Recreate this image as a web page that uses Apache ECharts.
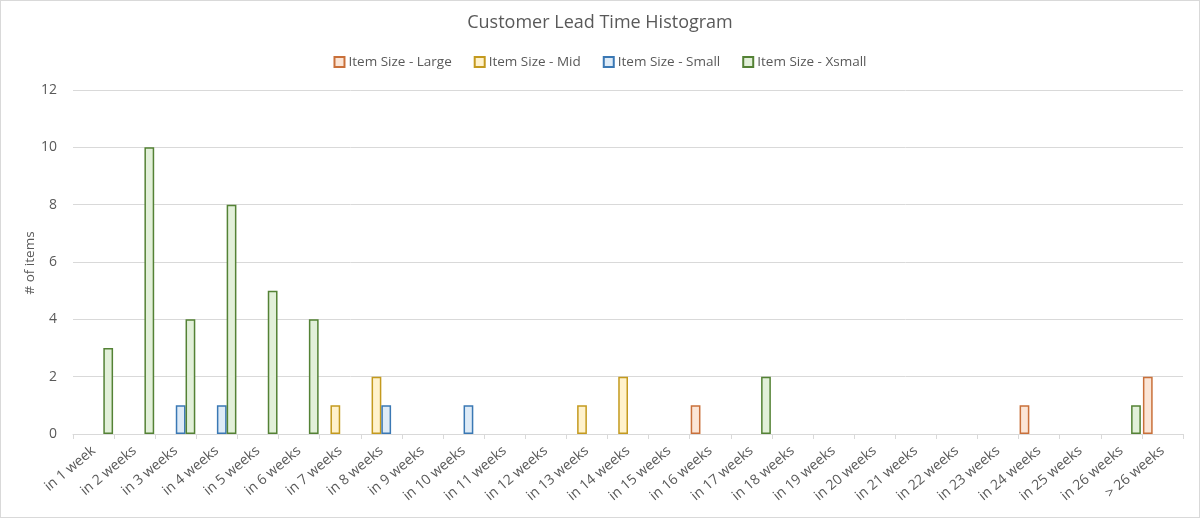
<!DOCTYPE html>
<html>
<head>
<meta charset="utf-8">
<script src="https://cdn.jsdelivr.net/npm/echarts@6/dist/echarts.min.js"></script>
<style>
html,body{margin:0;padding:0;background:#fff;}
#chart{width:1200px;height:518px;box-sizing:border-box;border:1px solid #D9D9D9;}
</style>
</head>
<body>
<div id="chart"></div>
<script>
const categories = ["in 1 week","in 2 weeks","in 3 weeks","in 4 weeks","in 5 weeks","in 6 weeks","in 7 weeks","in 8 weeks","in 9 weeks","in 10 weeks","in 11 weeks","in 12 weeks","in 13 weeks","in 14 weeks","in 15 weeks","in 16 weeks","in 17 weeks","in 18 weeks","in 19 weeks","in 20 weeks","in 21 weeks","in 22 weeks","in 23 weeks","in 24 weeks","in 25 weeks","in 26 weeks","> 26 weeks"];
const large  = [0,0,0,0,0,0,0,0,0,0,0,0,0,0,0,1,0,0,0,0,0,0,0,1,0,0,2];
const mid    = [0,0,0,0,0,0,1,2,0,0,0,0,1,2,0,0,0,0,0,0,0,0,0,0,0,0,0];
const small  = [0,0,1,1,0,0,0,1,0,1,0,0,0,0,0,0,0,0,0,0,0,0,0,0,0,0,0];
const xsmall = [3,10,4,8,5,4,0,0,0,0,0,0,0,0,0,0,2,0,0,0,0,0,0,0,0,1,0];
const seriesNames = ["Item Size - Large","Item Size - Mid","Item Size - Small","Item Size - Xsmall"];
const yTicks = [0,2,4,6,8,10,12];
const yAxisTitle = '# of items';

const styles = [
  {fill:'#FBE5D6', border:'#C9703A'},
  {fill:'#FFF2CC', border:'#C49A1E'},
  {fill:'#DEEBF7', border:'#3A78B4'},
  {fill:'#E2F0D9', border:'#548235'}
];
const data = [large, mid, small, xsmall];
const font = '"Open Sans", "Noto Sans", sans-serif';

const chart = echarts.init(document.getElementById('chart'));
chart.setOption({
  animation:false,
  textStyle:{fontFamily:font},
  title:{text:'Customer Lead Time Histogram', left:'center', top:8,
    textStyle:{fontSize:18, fontWeight:'normal', color:'#595959', fontFamily:font}},
  legend:{top:49, left:'center', icon:'rect', itemWidth:10, itemHeight:10, itemGap:22,
    textStyle:{fontSize:13.5, color:'#595959', fontFamily:font, padding:[0,0,0,-1]},
    data:seriesNames},
  graphic:[{type:'text', x:29, y:262, rotation:Math.PI/2,
    style:{text:yAxisTitle, fill:'#595959', font:'13.5px ' + font, align:'center', verticalAlign:'middle'}}],
  grid:{left:72, right:16, top:89, bottom:83, containLabel:false},
  xAxis:{type:'category', data:categories,
    axisLine:{lineStyle:{color:'#D9D9D9'}},
    axisTick:{show:true, interval:0, length:5, lineStyle:{color:'#D9D9D9'}},
    axisLabel:{interval:0, rotate:40, fontSize:14, color:'#595959', margin:15, fontFamily:font}},
  yAxis:{type:'value', min:yTicks[0], max:yTicks[yTicks.length-1], interval:2,
    axisLine:{show:false}, axisTick:{show:false},
    axisLabel:{fontSize:14, color:'#595959', margin:16, fontFamily:font},
    splitLine:{lineStyle:{color:'#D9D9D9'}}},
  series: seriesNames.map((n,i)=>({
    name:n, type:'bar', data:data[i].map(v => v === 0 ? '-' : v), barGap:'0%', barCategoryGap:'5%',
    itemStyle:{color:styles[i].fill, borderColor:styles[i].border, borderWidth:1.5}
  }))
});
</script>
</body>
</html>
